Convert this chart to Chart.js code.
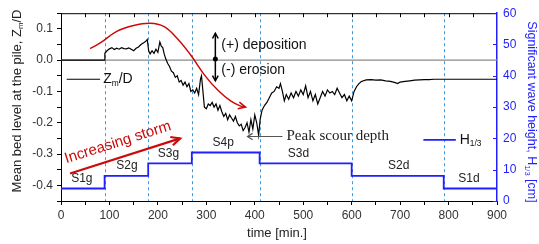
<!DOCTYPE html>
<html>
<head>
<meta charset="utf-8">
<script src="https://cdn.jsdelivr.net/npm/chart.js@4.4.0/dist/chart.umd.min.js"></script>
<style>
	html, body { margin: 0; padding: 0; background: #fff; }
	#wrap { width: 539px; height: 244px; }
</style>
</head>
<body>
<div id="wrap"><canvas id="bed-chart" width="539" height="244"></canvas></div>
<script>
// time [min.] and mean bed level Zm/D
var timeMin = [0, 90, 90.5, 95, 100, 105, 110, 115, 120, 125, 130, 135, 140, 145, 150, 155, 160, 165, 170, 175, 178,
	181, 184, 188, 192, 196, 200, 204, 207, 210, 213, 216, 220, 224, 228, 232, 236, 240, 244, 248, 252, 256, 260, 264,
	268, 272, 276, 280, 284, 288, 290, 293, 296, 300, 304, 308, 312, 316, 320, 324, 328, 332, 336, 340, 344, 348, 352,
	356, 360, 364, 368, 372, 376, 380, 384, 388, 392, 396, 400, 404, 408, 411, 415, 420, 425, 430, 435, 440, 445, 450,
	453, 457, 461, 465, 470, 475, 480, 485, 490, 495, 500, 505, 510, 515, 520, 525, 530, 535, 540, 545, 550, 555, 560,
	565, 570, 575, 580, 585, 590, 595, 600, 605, 610, 615, 620, 630, 640, 650, 660, 670, 680, 690, 695, 700, 710, 720,
	730, 740, 750, 760, 770, 780, 790, 900];
var zmD = [0, 0, 0.022, 0.03, 0.036, 0.04, 0.034, 0.038, 0.035, 0.04, 0.037, 0.036, 0.039, 0.035, 0.03, 0.038, 0.042,
	0.05, 0.055, 0.06, 0.066,
	0.03, 0.02, 0.03, 0.022, 0.035, 0.025, 0.058, 0.045, 0.04, 0.02, 0.005, -0.01, -0.02, -0.035, -0.04, -0.055, -0.05,
	-0.07, -0.065, -0.08, -0.07, -0.085, -0.075,
	-0.1, -0.095, -0.105, -0.09, -0.11, -0.06, -0.05, -0.1, -0.15, -0.155, -0.14, -0.145, -0.135, -0.15, -0.14, -0.16,
	-0.145, -0.165, -0.18, -0.17, -0.19, -0.175, -0.185,
	-0.195, -0.18, -0.2, -0.21, -0.205, -0.225, -0.215, -0.2, -0.23, -0.19, -0.22, -0.175, -0.2, -0.24, -0.19, -0.16,
	-0.145, -0.135, -0.12, -0.105, -0.1, -0.085, -0.09,
	-0.075, -0.1, -0.13, -0.11, -0.125, -0.105, -0.12, -0.1, -0.115, -0.095, -0.11, -0.082, -0.12, -0.1, -0.13, -0.11,
	-0.14, -0.12, -0.1, -0.115, -0.095, -0.105, -0.1,
	-0.11, -0.09, -0.105, -0.12, -0.11, -0.13, -0.115, -0.13, -0.1, -0.085, -0.075, -0.068, -0.063, -0.062, -0.064,
	-0.063, -0.066, -0.068, -0.072, -0.075, -0.07, -0.068, -0.066,
	-0.064, -0.063, -0.062, -0.062, -0.061, -0.061, -0.061, -0.061];

// significant wave height H1/3 [cm] per stage
var stageBounds = [0, 90, 180, 270, 410, 600, 790, 900];
var waveH = [4, 8, 12, 15.5, 12, 8, 4];
var stageNames = ['S1g', 'S2g', 'S3g', 'S4p', 'S3d', 'S2d', 'S1d'];
var stageLabelT = [43, 136, 222, 335, 490, 697, 842];

// red sketch curve (storm trend)
var trendT = [60, 81, 115, 150, 184, 212, 239, 267, 298, 325, 350, 370, 381];
var trendV = [0.037, 0.055, 0.092, 0.111, 0.118, 0.108, 0.071, 0.018, -0.051, -0.098, -0.13, -0.146, -0.15];

var FONT = "'Liberation Sans', Arial, sans-serif";
var BLUE = '#1f1fff';
var RED = '#cc0a0a';

var zmPoints = [];
for (let i = 0; i < timeMin.length; i++) {
	zmPoints.push({ x: timeMin[i], y: zmD[i] });
}
var stepPoints = [];
for (let i = 0; i < stageBounds.length; i++) {
	stepPoints.push({ x: stageBounds[i], y: waveH[Math.min(i, waveH.length - 1)] });
}
var trendPoints = [];
for (let i = 0; i < trendT.length; i++) {
	trendPoints.push({ x: trendT[i], y: trendV[i] });
}

function chevron(ctx, x1, y1, x2, y2, len, spread) {
	var a = Math.atan2(y2 - y1, x2 - x1);
	ctx.beginPath();
	ctx.moveTo(x2 - len * Math.cos(a - spread), y2 - len * Math.sin(a - spread));
	ctx.lineTo(x2, y2);
	ctx.lineTo(x2 - len * Math.cos(a + spread), y2 - len * Math.sin(a + spread));
	ctx.stroke();
}

// parts: [text, isSubscript]
function partsWidth(ctx, parts, size) {
	var w = 0;
	parts.forEach(function (p) {
		ctx.font = (p[1] ? size * 0.6 : size) + 'px ' + FONT;
		w += ctx.measureText(p[0]).width;
	});
	return w;
}
function drawParts(ctx, parts, x, y, size, color) {
	ctx.fillStyle = color;
	ctx.textBaseline = 'middle';
	ctx.textAlign = 'left';
	parts.forEach(function (p) {
		ctx.font = (p[1] ? size * 0.6 : size) + 'px ' + FONT;
		ctx.fillText(p[0], x, p[1] ? y + size * 0.3 : y);
		x += ctx.measureText(p[0]).width;
	});
}

var decor = {
	id: 'decor',
	beforeDatasetsDraw: function (chart) {
		var ctx = chart.ctx, xs = chart.scales.x, a = chart.chartArea;
		ctx.save();
		ctx.strokeStyle = '#3d9be0';
		ctx.lineWidth = 1;
		ctx.setLineDash([3, 3]);
		for (let i = 1; i < stageBounds.length - 1; i++) {
			var px = Math.round(xs.getPixelForValue(stageBounds[i])) + 0.5;
			ctx.beginPath();
			ctx.moveTo(px, a.top);
			ctx.lineTo(px, a.bottom);
			ctx.stroke();
		}
		ctx.restore();
	},
	afterDraw: function (chart) {
		var ctx = chart.ctx, xs = chart.scales.x, ys = chart.scales.y, y2 = chart.scales.y2, a = chart.chartArea;
		var X = function (v) { return xs.getPixelForValue(v); };
		var Y = function (v) { return ys.getPixelForValue(v); };
		var Y2 = function (v) { return y2.getPixelForValue(v); };
		ctx.save();

		// top frame with inward ticks
		ctx.strokeStyle = '#000';
		ctx.lineWidth = 1;
		ctx.beginPath();
		ctx.moveTo(a.left, a.top + 0.5);
		ctx.lineTo(a.right, a.top + 0.5);
		ctx.stroke();
		for (let t = 50; t < 900; t += 50) {
			ctx.beginPath();
			ctx.moveTo(Math.round(X(t)) + 0.5, a.top);
			ctx.lineTo(Math.round(X(t)) + 0.5, a.top + 4);
			ctx.stroke();
		}
		// right axis inward ticks
		ctx.strokeStyle = BLUE;
		for (let h = 0; h <= 60; h += 10) {
			ctx.beginPath();
			ctx.moveTo(a.right - 4, Math.round(Y2(h)) + 0.5);
			ctx.lineTo(a.right, Math.round(Y2(h)) + 0.5);
			ctx.stroke();
		}

		// stage labels
		ctx.fillStyle = '#222';
		ctx.font = '12px ' + FONT;
		ctx.textAlign = 'center';
		ctx.textBaseline = 'middle';
		for (let i = 0; i < stageNames.length; i++) {
			ctx.fillText(stageNames[i], X(stageLabelT[i]), Y2(waveH[i]) - 10);
		}

		// red trend arrowhead
		ctx.strokeStyle = RED;
		ctx.lineWidth = 1.5;
		var n = trendT.length;
		chevron(ctx, X(trendT[n - 2]), Y(trendV[n - 2]), X(trendT[n - 1]), Y(trendV[n - 1]), 8, 0.45);

		// increasing storm arrow
		var sx1 = X(18.6), sy1 = Y(-0.362), sx2 = X(246), sy2 = Y(-0.25);
		ctx.lineWidth = 2.2;
		ctx.beginPath();
		ctx.moveTo(sx1, sy1);
		ctx.lineTo(sx2, sy2);
		ctx.stroke();
		chevron(ctx, sx1, sy1, sx2, sy2, 10, 0.45);
		var ang = Math.atan2(sy2 - sy1, sx2 - sx1);
		ctx.save();
		ctx.translate((sx1 + sx2) / 2 + 14 * Math.sin(ang) - 3, (sy1 + sy2) / 2 - 14 * Math.cos(ang));
		ctx.rotate(ang);
		ctx.fillStyle = RED;
		ctx.font = '15px ' + FONT;
		ctx.textAlign = 'center';
		ctx.textBaseline = 'middle';
		ctx.fillText('Increasing storm', 0, 0);
		ctx.restore();

		// deposition / erosion double arrow
		var dx = X(318.6), dTop = Y(0.086), dBot = Y(-0.066);
		ctx.strokeStyle = '#000';
		ctx.fillStyle = '#000';
		ctx.lineWidth = 1.5;
		ctx.beginPath();
		ctx.moveTo(dx, dTop);
		ctx.lineTo(dx, dBot);
		ctx.stroke();
		chevron(ctx, dx, dBot, dx, dTop, 6, 0.5);
		chevron(ctx, dx, dTop, dx, dBot, 6, 0.5);
		ctx.beginPath();
		ctx.arc(dx, Y(0.004), 2.5, 0, Math.PI * 2);
		ctx.fill();
		ctx.fillStyle = '#111';
		ctx.font = '14px ' + FONT;
		ctx.textAlign = 'left';
		ctx.textBaseline = 'middle';
		ctx.fillText('(+) deposition', X(331), Y(0.047));
		ctx.fillText('(-) erosion', X(331), Y(-0.032));

		// peak scour depth
		ctx.strokeStyle = '#555';
		ctx.lineWidth = 1.2;
		var py = Y(-0.244);
		ctx.beginPath();
		ctx.moveTo(X(457), py);
		ctx.lineTo(X(385), py);
		ctx.stroke();
		chevron(ctx, X(457), py, X(385), py, 6, 0.55);
		ctx.fillStyle = '#222';
		ctx.font = "15px 'Liberation Serif', 'Times New Roman', serif";
		ctx.fillText('Peak scour depth', X(465.5), py);

		// legends
		ctx.strokeStyle = '#000';
		ctx.lineWidth = 1.2;
		ctx.beginPath();
		ctx.moveTo(X(11.8), Y(-0.061));
		ctx.lineTo(X(80.7), Y(-0.061));
		ctx.stroke();
		drawParts(ctx, [['Z', false], ['m', true], ['/D', false]], X(87), Y(-0.061), 14, '#111');
		ctx.strokeStyle = BLUE;
		ctx.lineWidth = 1.8;
		ctx.beginPath();
		ctx.moveTo(X(748), Y2(19.5));
		ctx.lineTo(X(815), Y2(19.5));
		ctx.stroke();
		drawParts(ctx, [['H', false], ['1/3', true]], X(823), Y2(19.5), 14, '#111');

		// axis titles
		var lt = [['Mean bed level at the pile, Z', false], ['m', true], ['/D', false]];
		ctx.save();
		ctx.translate(17, 101);
		ctx.rotate(-Math.PI / 2);
		drawParts(ctx, lt, -partsWidth(ctx, lt, 13) / 2, 0, 13, '#222');
		ctx.restore();
		var rt = [['Significant wave height, H', false], ['1/3', true], [' [cm]', false]];
		ctx.save();
		ctx.translate(531, 112);
		ctx.rotate(Math.PI / 2);
		drawParts(ctx, rt, -partsWidth(ctx, rt, 12.5) / 2, 0, 12.5, BLUE);
		ctx.restore();
		ctx.fillStyle = '#222';
		ctx.font = '13px ' + FONT;
		ctx.textAlign = 'center';
		ctx.textBaseline = 'middle';
		ctx.fillText('time [min.]', 277, 233);

		ctx.restore();
	}
};

const bedChart = document.getElementById('bed-chart');
new Chart(bedChart, {
	type: 'line',
	data: {
		datasets: [{
			label: 'Zm/D',
			data: zmPoints,
			yAxisID: 'y',
			borderColor: '#000',
			borderWidth: 1.2,
			pointRadius: 0,
			tension: 0
		}, {
			label: 'H1/3',
			data: stepPoints,
			yAxisID: 'y2',
			borderColor: BLUE,
			borderWidth: 1.8,
			pointRadius: 0,
			stepped: 'before'
		}, {
			label: 'trend',
			data: trendPoints,
			yAxisID: 'y',
			borderColor: RED,
			borderWidth: 1.5,
			pointRadius: 0,
			tension: 0.4
		}, {
			label: 'zero',
			data: [{ x: 0, y: 0 }, { x: 900, y: 0 }],
			yAxisID: 'y',
			borderColor: '#8a8a8a',
			borderWidth: 1.2,
			pointRadius: 0
		}]
	},
	options: {
		responsive: false,
		animation: false,
		layout: { padding: { top: 12, left: 0, right: 0, bottom: 0 } },
		plugins: { legend: { display: false }, tooltip: { enabled: false } },
		scales: {
			x: {
				type: 'linear',
				position: 'bottom',
				min: 0,
				max: 900,
				afterFit: function (s) { s.height = 43; },
				grid: { drawOnChartArea: false, tickLength: 4, color: '#000' },
				border: { color: '#000', width: 1 },
				ticks: {
					stepSize: 50,
					autoSkip: false,
					maxRotation: 0,
					padding: 3,
					color: '#333',
					font: { family: FONT, size: 12 },
					callback: function (v) { return Math.round(v) % 100 === 0 ? String(Math.round(v)) : ''; }
				}
			},
			y: {
				position: 'left',
				min: -0.45,
				max: 0.15,
				afterFit: function (s) { s.width = 61; },
				grid: { drawOnChartArea: false, tickLength: 4, color: '#000' },
				border: { color: '#000', width: 1 },
				ticks: {
					stepSize: 0.05,
					autoSkip: false,
					padding: 4,
					color: '#333',
					font: { family: FONT, size: 12 },
					callback: function (v) {
						var r = Math.round(v * 100);
						if (r % 10 !== 0) return '';
						var t = r / 100;
						return t === 0 ? '0.0' : t.toFixed(1);
					}
				}
			},
			y2: {
				position: 'right',
				min: 0,
				max: 60,
				afterFit: function (s) { s.width = 42; },
				grid: { drawOnChartArea: false, drawTicks: false },
				border: { color: BLUE, width: 1.5 },
				ticks: {
					stepSize: 10,
					padding: 6,
					color: BLUE,
					font: { family: FONT, size: 12 }
				}
			}
		}
	},
	plugins: [decor]
});
</script>
</body>
</html>
